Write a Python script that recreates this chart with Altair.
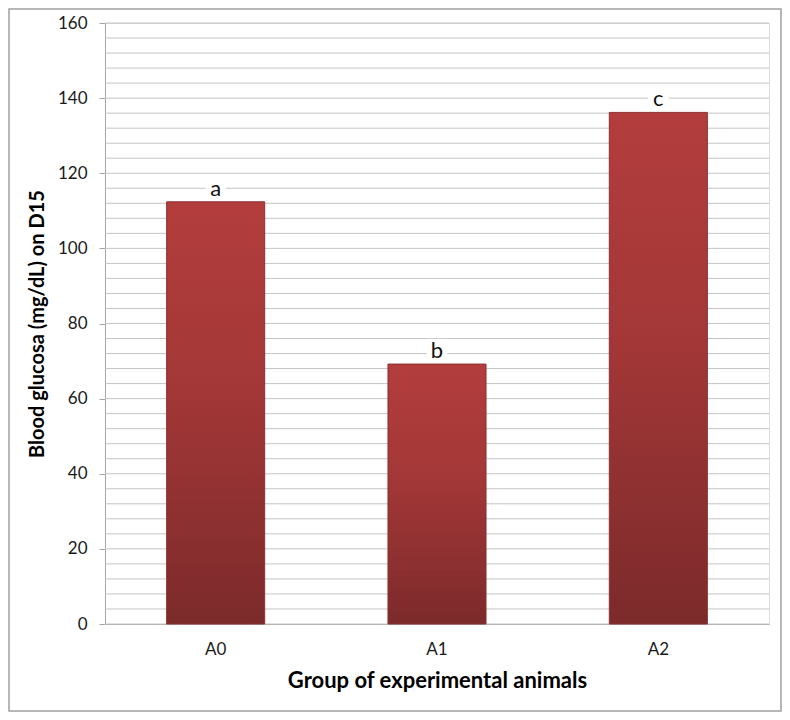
import altair as alt
import pandas as pd

groups = ["A0", "A1", "A2"]
glucose = [112.4, 69.2, 136.2]
letters = ["a", "b", "c"]
y_ticks = [0, 20, 40, 60, 80, 100, 120, 140, 160]
grid_vals = list(range(0, 161, 4))

df = pd.DataFrame({"group": groups, "value": glucose, "letter": letters})
grid_df = pd.DataFrame({"g": grid_vals})
frame_df = pd.DataFrame({"k": [0]})

FONT = "Lato"
W, H = 664, 601

xscale = alt.Scale(domain=groups, paddingInner=0.557, paddingOuter=0.2785)
yscale = alt.Scale(domain=[0, 160], nice=False)

grid = alt.Chart(grid_df).mark_rule(color="#c4c4c4", strokeWidth=1).encode(
    y=alt.Y("g:Q", scale=yscale),
)

bar_fill = alt.Gradient(
    gradient="linear",
    stops=[
        alt.GradientStop(color="#b33d3d", offset=0),
        alt.GradientStop(color="#a33737", offset=0.45),
        alt.GradientStop(color="#7c2a2b", offset=1),
    ],
    x1=0, x2=0, y1=0, y2=1,
)

bars = alt.Chart(df).mark_bar(color=bar_fill, stroke="#8c3030", strokeWidth=1).encode(
    x=alt.X(
        "group:N",
        scale=xscale,
        sort=groups,
        axis=alt.Axis(
            title="Group of experimental animals",
            labelAngle=0,
            ticks=False,
            domainColor="#a6a6a6",
            labelFont=FONT,
            labelFontSize=17,
            labelColor="#1a1a1a",
            labelPadding=17,
            titleFont=FONT,
            titleFontSize=22,
            titleFontWeight="bold",
            titleColor="#000000",
            titlePadding=13,
        ),
    ),
    y=alt.Y(
        "value:Q",
        scale=yscale,
        axis=alt.Axis(
            title="Blood glucosa (mg/dL) on D15",
            values=y_ticks,
            grid=False,
            tickSize=6,
            tickColor="#a6a6a6",
            domainColor="#a6a6a6",
            labelFont=FONT,
            labelFontSize=17,
            labelColor="#1a1a1a",
            labelPadding=12,
            titleFont=FONT,
            titleFontSize=20,
            titleFontWeight="bold",
            titleColor="#000000",
            titlePadding=10,
        ),
    ),
)

label_bg = alt.Chart(df).mark_point(
    shape="square", filled=True, color="white", opacity=1, size=420, yOffset=-15
).encode(
    x=alt.X("group:N", scale=xscale, sort=groups),
    y=alt.Y("value:Q", scale=yscale),
)

labels = alt.Chart(df).mark_text(
    font=FONT, fontSize=22, color="#111111", baseline="alphabetic", dy=-6
).encode(
    x=alt.X("group:N", scale=xscale, sort=groups),
    y=alt.Y("value:Q", scale=yscale),
    text="letter:N",
)

frame = alt.Chart(frame_df).mark_rect(
    fill=None, fillOpacity=0, stroke="#a0a0a0", strokeWidth=1.5
).encode(
    x=alt.value(-96), x2=alt.value(W + 12),
    y=alt.value(-14), y2=alt.value(H + 87),
)

chart = alt.layer(grid, bars, label_bg, labels, frame).properties(
    width=W, height=H,
    autosize=alt.AutoSizeParams(type="none"),
    padding={"left": 97, "top": 15, "right": 13, "bottom": 88},
).configure_view(stroke=None).configure(background="white")

chart.save("out.html", embed_options={"renderer": "svg", "actions": False})
